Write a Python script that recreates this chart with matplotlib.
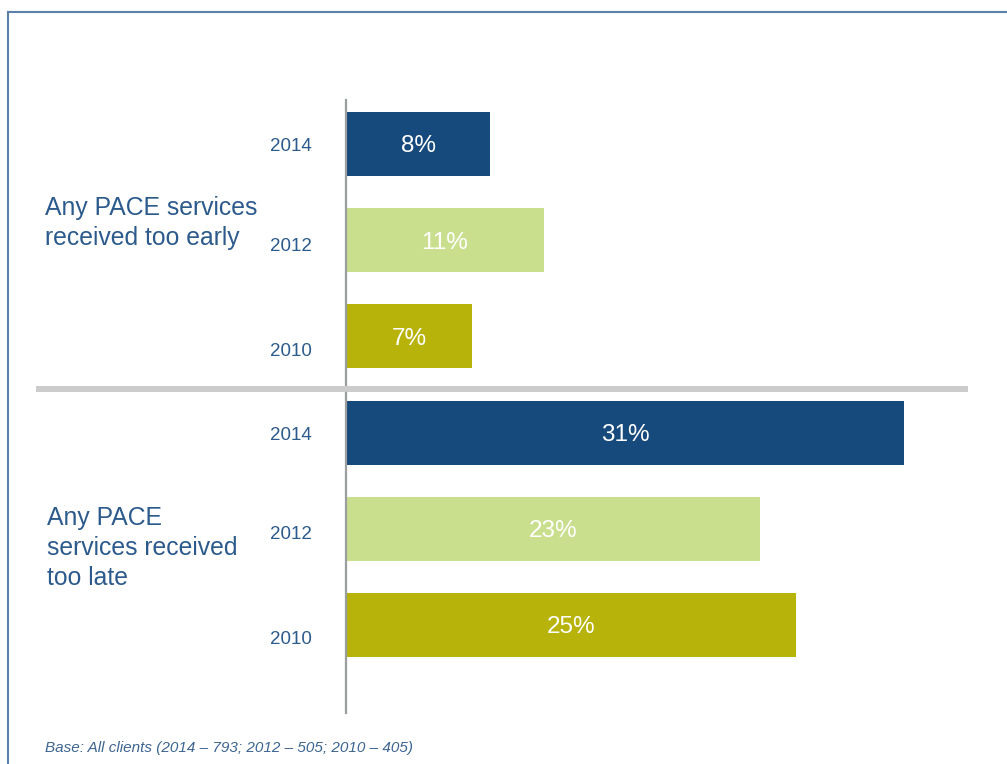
import matplotlib.pyplot as plt
from matplotlib.lines import Line2D

plt.rcParams['font.family'] = ['Liberation Sans', 'DejaVu Sans']

groups = ["Any PACE services\nreceived too early", "Any PACE\nservices received\ntoo late"]
years = ["2014", "2012", "2010"]
too_early = [8, 11, 7]
too_late = [31, 23, 25]
footnote = "Base: All clients (2014 \u2013 793; 2012 \u2013 505; 2010 \u2013 405)"

year_colors = ["#174a7c", "#cadf8e", "#b7b30a"]
label_blue = "#2c5a8c"
W, H = 1007, 764

fig = plt.figure(figsize=(W / 100, H / 100), dpi=100)
ax = fig.add_axes([346 / W, 1 - 713 / H, (968 - 346) / W, (713 - 100) / H])

values = too_early + too_late
positions = list(range(len(values)))
colors = year_colors * len(groups)
ax.barh(positions, values, height=0.665, color=colors, zorder=2)

for pos, val in zip(positions, values):
    ax.annotate(f"{val}%", xy=(val / 2, pos), xytext=(0, -2.5),
                textcoords="offset pixels", ha="center", va="center",
                color="white", fontsize=17.5, zorder=3)

# year labels sit a little lower than the bar centres as you go down
year_nudge = [-2.5, -6, -15]
for pos in positions:
    i = pos % len(years)
    ax.annotate(years[i], xy=(0, pos), xytext=(-34, year_nudge[i]),
                textcoords="offset pixels", ha="right", va="center",
                color=label_blue, fontsize=13.5)

ax.set_xlim(0, (968 - 346) / 18)
ax.set_ylim(5.915, -0.457)
for side in ["top", "right", "bottom"]:
    ax.spines[side].set_visible(False)
ax.spines["left"].set_color("#9a9e9e")
ax.spines["left"].set_linewidth(1.6)
ax.set_xticks([])
ax.set_yticks([])

# group titles on the left
fig.text(45 / W, 1 - 223 / H, groups[0], ha="left", va="center",
         color=label_blue, fontsize=17.8, linespacing=1.32)
fig.text(47 / W, 1 - 548 / H, groups[1], ha="left", va="center",
         color=label_blue, fontsize=17.8, linespacing=1.32)

# divider between the two groups
fig.add_artist(Line2D([36 / W, 968 / W], [1 - 389 / H] * 2,
                      color="#cccccc", lw=4.3, solid_capstyle="butt"))

# frame lines top and left
fig.add_artist(Line2D([8 / W, 1], [1 - 12 / H] * 2, color="#5b80aa", lw=1.5))
fig.add_artist(Line2D([8 / W, 8 / W], [0, 1 - 12 / H], color="#5b80aa", lw=1.5))

fig.text(45 / W, 1 - 748 / H, footnote, ha="left", va="center",
         color="#3d6590", fontsize=11, style="italic")

fig.savefig("out.png", dpi=100)
